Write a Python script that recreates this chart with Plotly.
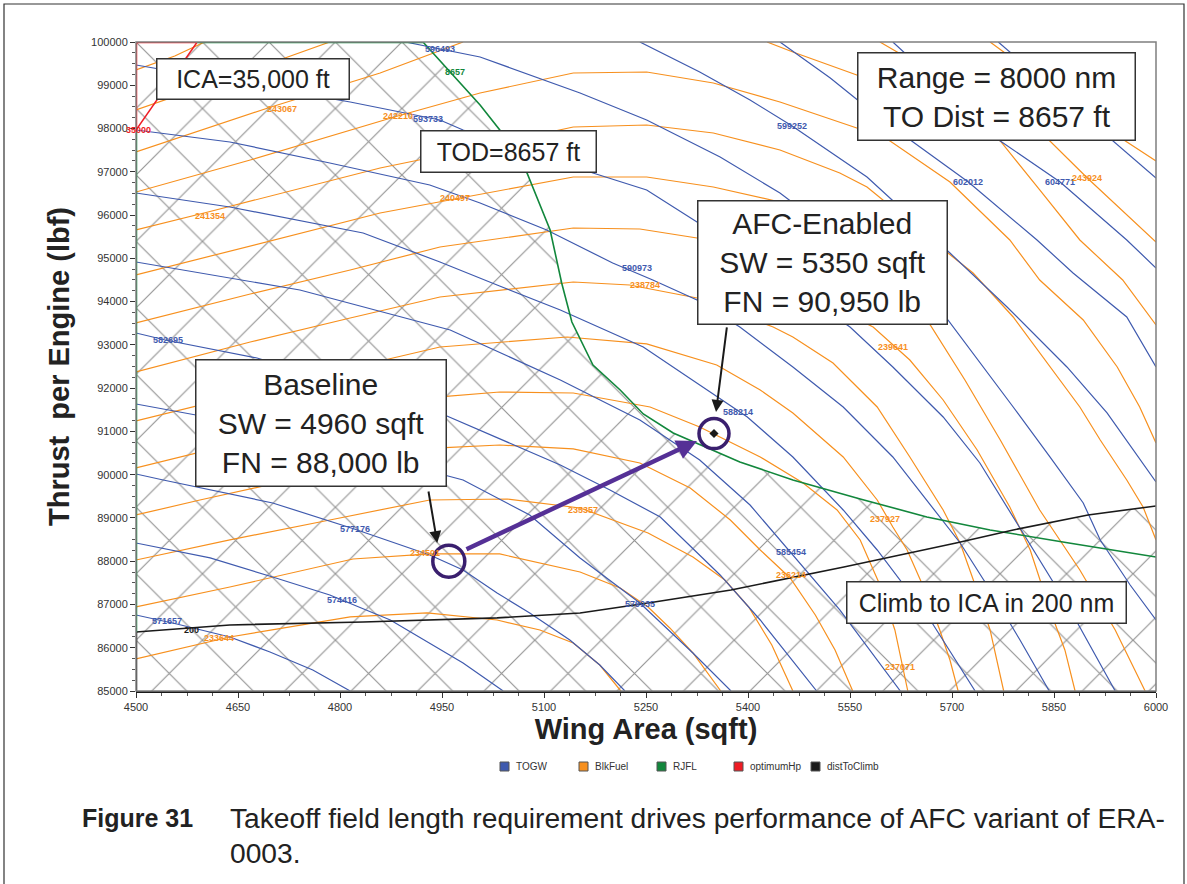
import numpy as np
import plotly.graph_objects as go

# ---------------- data (Wing Area sqft, Thrust lbf) ----------------
# TOGW contours (lb) : level -> (x list, y list)
togw_levels = [571657, 574416, 577176, 579935, 582695, 585454, 588214, 590973, 593733, 596493, 599252, 602012, 604771, 607531]
togw_x = [
    [4500, 4560, 4638, 4697, 4760, 4815],
    [4500, 4609, 4701, 4785, 4874, 4932, 4981, 5040],
    [4500, 4540, 4701, 4821, 4932, 4981, 5031, 5079, 5138, 5182, 5219],
    [4500, 4668, 4815, 4981, 5079, 5153, 5241, 5319, 5375],
    [4500, 4543, 4678, 4947, 5124, 5197, 5271, 5310, 5359, 5418, 5501],
    [4500, 4741, 4962, 5124, 5241, 5329, 5403, 5462, 5535, 5624],
    [4500, 4638, 4834, 4947, 5031, 5124, 5246, 5319, 5399, 5466, 5540, 5590, 5668, 5734],
    [4500, 4638, 4785, 4932, 5006, 5104, 5201, 5260, 5325, 5388, 5466, 5540, 5613, 5663, 5712, 5756, 5800, 5843],
    [4500, 4668, 4815, 4947, 4981, 5172, 5251, 5325, 5550, 5613, 5687, 5741, 5781, 5810, 5874, 5940],
    [4896, 5006, 5153, 5251, 5359, 5447, 5694, 5746, 5790, 5844, 5893, 5918, 5962, 6000],
    [5241, 5329, 5403, 5465, 5575, 5697, 5781, 5869, 5928, 6000],
    [5447, 5521, 5594, 5724, 5825, 5878, 5957, 6000],
    [5613, 5771, 5859, 5957, 6000],
    [5768, 5937, 6000],
]
togw_y = [
    [86757, 86549, 86248, 85902, 85486, 85000],
    [88421, 88075, 87635, 87219, 86641, 86110, 85647, 85000],
    [90016, 89877, 89346, 88745, 88144, 87797, 87265, 86804, 86179, 85601, 85000],
    [91634, 91148, 90571, 89877, 89068, 88075, 87034, 85879, 85000],
    [93275, 93113, 92697, 91426, 90224, 89646, 89022, 88421, 87682, 86641, 85000],
    [94915, 94268, 93344, 92188, 91264, 90340, 89299, 88213, 86873, 85000],
    [96510, 96187, 95586, 94915, 94384, 93806, 92951, 92188, 91333, 90409, 89184, 88259, 86641, 85000],
    [97966, 97689, 97204, 96695, 96279, 95655, 94892, 94499, 94037, 93413, 92489, 91564, 90409, 89415, 88421, 87335, 86179, 85000],
    [99469, 99006, 98613, 98198, 97966, 96973, 96580, 95840, 93413, 92489, 91333, 90270, 89253, 88491, 86873, 85000],
    [100000, 99654, 98821, 98198, 97342, 96510, 93575, 92489, 91564, 90409, 89346, 88491, 87450, 86641],
    [100000, 99307, 98660, 98059, 96880, 95123, 93875, 92489, 91426, 89831],
    [100000, 99168, 98244, 96764, 95424, 94661, 93644, 92489],
    [100000, 97712, 96764, 95424, 94777],
    [100000, 97712, 96857],
]
# label positions of the TOGW contours
togw_lab_x = [4545, 4803, 4822, 5241, 4547, 5463, 5385, 5237, 4929, 4947, 5465, 5724, 5859, None]
togw_lab_y = [86620, 87104, 88745, 87011, 93113, 88213, 91449, 94777, 98221, 99838, 98059, 96764, 96764, None]

# Block fuel contours (lb)
fuel_levels = [233644, 234501, 235357, 236214, 237071, 237927, 238784, 239641, 240497, 241354, 242210, 243067, 243924, 244780]
fuel_x = [
    [4500, 4638, 4815, 4928, 5031, 5094, 5143, 5182, 5213],
    [4500, 4638, 4819, 4932, 5035, 5153, 5212, 5253, 5285, 5319, 5360],
    [4500, 4638, 4785, 4932, 5046, 5153, 5253, 5319, 5366, 5401, 5435, 5466],
    [4500, 4594, 4741, 4947, 5035, 5143, 5241, 5315, 5374, 5418, 5462, 5499, 5528, 5554],
    [4500, 4668, 4815, 4947, 5035, 5143, 5256, 5329, 5418, 5481, 5531, 5565, 5594, 5616, 5635],
    [4500, 4668, 4815, 4947, 5134, 5251, 5354, 5418, 5466, 5540, 5590, 5613, 5634, 5660, 5682, 5697, 5709],
    [4500, 4668, 4815, 4947, 5143, 5226, 5325, 5437, 5466, 5525, 5590, 5638, 5687, 5712, 5734, 5756, 5776],
    [4500, 4668, 4815, 4947, 5143, 5241, 5325, 5584, 5638, 5687, 5737, 5785, 5815, 5844, 5866, 5881],
    [4500, 4668, 4859, 4969, 5143, 5251, 5349, 5447, 5668, 5719, 5771, 5829, 5888, 5940, 5984],
    [4500, 4606, 4859, 4966, 5143, 5251, 5349, 5447, 5535, 5575, 5694, 5731, 5790, 5844, 5888, 5918, 5957, 5981, 6000],
    [4500, 4668, 4885, 5006, 5143, 5251, 5349, 5447, 5560, 5609, 5697, 5785, 5829, 5893, 5943, 5976, 6000],
    [4500, 4694, 4859, 4981, None, 5428, 5466, 5560, 5771, 5829, 5888, 5951, 6000],
    [4500, 4594, 4682, 4785, None, 5594, 5844, 5899, 5947, 6000],
    [4500, 4557, 4601, None, 5756, 5955, 6000],
]
fuel_y = [
    [85740, 86248, 86711, 86804, 86641, 86410, 86110, 85601, 85000],
    [86942, 87404, 88051, 88167, 88167, 87751, 87381, 86942, 86457, 85879, 85000],
    [88028, 88491, 88953, 89415, 89438, 89230, 88652, 88098, 87566, 86942, 86064, 85000],
    [89068, 89415, 89924, 90617, 90686, 90594, 90270, 89692, 88953, 88259, 87612, 86757, 85948, 85000],
    [90155, 90802, 91379, 91796, 91911, 91888, 91564, 91102, 90409, 89808, 89184, 88491, 87450, 86410, 85000],
    [91241, 91888, 92466, 92951, 93182, 93021, 92535, 91957, 91426, 90409, 89415, 88791, 88259, 87335, 86410, 85717, 85000],
    [92373, 93067, 93621, 94107, 94453, 94384, 94084, 93413, 93182, 92581, 91564, 90409, 89184, 88421, 87450, 86410, 85000],
    [93506, 94176, 94730, 95262, 95701, 95678, 95470, 93413, 92650, 91726, 90571, 89253, 88259, 86873, 85948, 85000],
    [94615, 95285, 96048, 96372, 96880, 96880, 96649, 96302, 93460, 92188, 90802, 89184, 87797, 86410, 85000],
    [95655, 96071, 97088, 97435, 98036, 98082, 97897, 97504, 96973, 96649, 95123, 94661, 93644, 92489, 91564, 90802, 89877, 89253, 88491],
    [96533, 97273, 98290, 98821, 99284, 99307, 99052, 98613, 98013, 97712, 96764, 95424, 94499, 93575, 92489, 91564, 90732],
    [97458, 98475, 99284, 100000, None, 100000, 99769, 99237, 97712, 96580, 95424, 94499, 93460],
    [98429, 98937, 99422, 100000, None, 100000, 97712, 96857, 96164, 95378],
    [99353, 99677, 100000, None, 100000, 97712, 97250],
]
fuel_lab_x = [4622, 4925, 5157, 5463, 5624, 5601, 5249, 5613, 4969, 4609, 4885, 4715, 5899, 4622]
fuel_lab_y = [86226, 88190, 89184, 87682, 85555, 88976, 94384, 92951, 96395, 95979, 98290, 98452, 96857, 100046]

# RJFL = 8657 ft constraint contour
rjfl_x = [4922, 5006, 5035, 5075, 5109, 5126, 5141, 5172, 5212, 5246, 5290, 5340, 5388, 5466, 5565, 5663, 5756, 5872, 6000]
rjfl_y = [100000, 98544, 97966, 96973, 95655, 94430, 93529, 92535, 91958, 91403, 90964, 90617, 90294, 89878, 89439, 89023, 88722, 88422, 88098]
# distToClimb = 200 nm contour
climb_x = [4500, 4638, 4834, 5031, 5153, 5253, 5375, 5541, 5706, 5790, 5900, 6000]
climb_y = [86365, 86527, 86596, 86689, 86804, 87035, 87336, 87867, 88422, 88722, 89069, 89277]
# optimumHp = 35000 ft contour
hp_x = [4590, 4500]
hp_y = [100000, 97966]

baseline = (4960, 88000)
afc = (5350, 90950)

FONT = "Arial, Liberation Sans, sans-serif"
BLUE = "#3F5AAE"
ORANGE = "#F7901E"
GREEN = "#12873C"
RED = "#EE1C24"
BLACK = "#1A1A1A"
HATCH = "#959595"

W, H = 1187, 884
L, R, T, B = 136, 1156, 42, 691


def px(x):
    return (x - L) / (R - L)


def py(y):
    return (B - y) / (B - T)


fig = go.Figure()

# hatched infeasible region (left of RJFL / below climb constraint)
bx = np.union1d(np.array(rjfl_x, float), np.array(climb_x, float))
bx = np.union1d(bx, np.linspace(4500, 6000, 301))
gy = np.interp(bx, rjfl_x, rjfl_y, left=100000)
cy = np.interp(bx, climb_x, climb_y)
by = np.maximum(gy, cy)
poly_x = [4500] + list(bx) + [6000, 4500]
poly_y = [85000] + list(by) + [85000, 85000]
fig.add_trace(go.Scatter(
    x=poly_x, y=poly_y, mode="lines", fill="toself",
    fillcolor="rgba(0,0,0,0)", line=dict(width=0, color="rgba(0,0,0,0)"),
    fillpattern=dict(shape="x", fgcolor=HATCH, bgcolor="rgba(0,0,0,0)",
                     size=47, solidity=0.05, fillmode="replace"),
    hoverinfo="skip", showlegend=False))

for xs, ys in zip(fuel_x, fuel_y):
    fig.add_trace(go.Scatter(x=xs, y=ys, mode="lines", line=dict(color=ORANGE, width=1.2),
                             connectgaps=False, showlegend=False, hoverinfo="skip"))
for xs, ys in zip(togw_x, togw_y):
    fig.add_trace(go.Scatter(x=xs, y=ys, mode="lines", line=dict(color=BLUE, width=1.2),
                             showlegend=False, hoverinfo="skip"))

# constraint lines
fig.add_trace(go.Scatter(x=rjfl_x, y=rjfl_y, mode="lines", line=dict(color=GREEN, width=1.6), showlegend=False))
fig.add_trace(go.Scatter(x=climb_x, y=climb_y, mode="lines", line=dict(color=BLACK, width=1.6), showlegend=False))
fig.add_trace(go.Scatter(x=hp_x, y=hp_y, mode="lines", line=dict(color=RED, width=1.5), showlegend=False))

# region outlines along the frame
fig.add_trace(go.Scatter(x=[4500, 4500, hp_x[0]], y=[hp_y[1], 100000, 100000], mode="lines",
                         line=dict(color=RED, width=2.5), cliponaxis=False, showlegend=False))
fig.add_trace(go.Scatter(x=[4500, 4500], y=[climb_y[0], hp_y[1]], mode="lines",
                         line=dict(color=GREEN, width=2.5), cliponaxis=False, showlegend=False))
fig.add_trace(go.Scatter(x=[hp_x[0], rjfl_x[0]], y=[100000, 100000], mode="lines",
                         line=dict(color=GREEN, width=2.5), cliponaxis=False, showlegend=False))
fig.add_trace(go.Scatter(x=[4500, 4500], y=[85000, climb_y[0]], mode="lines",
                         line=dict(color=BLACK, width=2.5), cliponaxis=False, showlegend=False))

# design points
fig.add_trace(go.Scatter(x=[afc[0]], y=[afc[1]], mode="markers",
                         marker=dict(symbol="diamond", size=7, color=BLACK), showlegend=False))

shapes = []
for (cx, cy_), r in ((baseline, 16), (afc, 15)):
    shapes.append(dict(type="circle", xref="x", yref="y", xsizemode="pixel", ysizemode="pixel",
                       xanchor=cx, yanchor=cy_, x0=-r, x1=r, y0=-r, y1=r,
                       line=dict(color="#3A1F6E", width=3.5)))
# plot frame
shapes.append(dict(type="rect", xref="paper", yref="paper", x0=0, x1=1, y0=0, y1=1,
                   line=dict(color="#7F7F7F", width=1.5), layer="above"))
# outer figure frame
shapes.append(dict(type="rect", xref="paper", yref="paper", x0=px(4), x1=px(1184), y0=py(905), y1=py(4),
                   line=dict(color="#333333", width=1.2)))

ann = []

# contour value labels
for lv, lx, ly in zip(togw_levels, togw_lab_x, togw_lab_y):
    if lx is None:
        continue
    ann.append(dict(x=lx, y=ly, xref="x", yref="y", text=f"<b>{lv}</b>", showarrow=False,
                    font=dict(family=FONT, size=9, color=BLUE)))
for lv, lx, ly in zip(fuel_levels, fuel_lab_x, fuel_lab_y):
    ann.append(dict(x=lx, y=ly, xref="x", yref="y", text=f"<b>{lv}</b>", showarrow=False,
                    font=dict(family=FONT, size=9, color=ORANGE)))
ann.append(dict(x=4969, y=99307, xref="x", yref="y", text="<b>8657</b>", showarrow=False,
                font=dict(family=FONT, size=9, color=GREEN)))
ann.append(dict(x=4582, y=86410, xref="x", yref="y", text="<b>200</b>", showarrow=False,
                font=dict(family=FONT, size=9, color=BLACK)))
ann.append(dict(x=4503, y=97966, xref="x", yref="y", text="<b>35000</b>", showarrow=False,
                font=dict(family=FONT, size=9, color=RED)))


def box(text, x0, x1, y0, y1, size):
    ann.append(dict(xref="paper", yref="paper", x=px((x0 + x1) / 2), y=py((y0 + y1) / 2),
                    xanchor="center", yanchor="middle", text=text, showarrow=False,
                    font=dict(family=FONT, size=size, color="#222222"),
                    bgcolor="white", bordercolor="#333333", borderwidth=1.5, borderpad=0,
                    width=x1 - x0 - 3, height=y1 - y0 - 3, align="center"))


box("ICA=35,000 ft", 156, 350, 58, 100, 25)
box("TOD=8657 ft", 420, 597, 130, 173, 25)
box("Range = 8000 nm<br>TO Dist = 8657 ft", 857, 1136, 52, 141, 30)
box("AFC-Enabled<br>SW = 5350 sqft<br>FN = 90,950 lb", 697, 948, 200, 325, 30)
box("Baseline<br>SW = 4960 sqft<br>FN = 88,000 lb", 195, 447, 359, 487, 30)
box("Climb to ICA in 200 nm", 846, 1127, 581, 624, 25)

# arrows
ann.append(dict(x=4943, y=88421, xref="x", yref="y", ax=-9, ay=-53, text="", showarrow=True,
                arrowhead=2, arrowsize=1.2, arrowwidth=2, arrowcolor=BLACK))
ann.append(dict(x=5353, y=91449, xref="x", yref="y", ax=11, ay=-86, text="", showarrow=True,
                arrowhead=2, arrowsize=1.2, arrowwidth=2, arrowcolor=BLACK))
ann.append(dict(x=5325, y=90779, xref="x", yref="y", ax=-232, ay=109, text="", showarrow=True,
                arrowhead=2, arrowsize=0.9, arrowwidth=4.5, arrowcolor="#553096"))

# legend (manual)
leg = [("TOGW", BLUE, 500), ("BlkFuel", ORANGE, 579), ("RJFL", GREEN, 657), ("optimumHp", RED, 734), ("distToClimb", BLACK, 811)]
for name, col, x in leg:
    shapes.append(dict(type="rect", xref="paper", yref="paper", x0=px(x), x1=px(x + 9), y0=py(771), y1=py(762),
                       fillcolor=col, line=dict(color="#555555", width=1)))
    ann.append(dict(xref="paper", yref="paper", x=px(x + 14), y=py(766.5), xanchor="left", yanchor="middle",
                    text=name, showarrow=False, font=dict(family=FONT, size=10, color="#333333")))

# caption
ann.append(dict(xref="paper", yref="paper", x=px(80), y=py(818), xanchor="left", yanchor="middle",
                text="<b>Figure 31</b>", showarrow=False, font=dict(family=FONT, size=25, color="#222222")))
ann.append(dict(xref="paper", yref="paper", x=px(228), y=py(818), xanchor="left", yanchor="middle",
                text="Takeoff field length requirement drives performance of AFC variant of ERA-",
                showarrow=False, font=dict(family=FONT, size=28.2, color="#222222")))
ann.append(dict(xref="paper", yref="paper", x=px(228), y=py(853), xanchor="left", yanchor="middle",
                text="0003.", showarrow=False, font=dict(family=FONT, size=28.2, color="#222222")))

fig.update_layout(
    width=W, height=H, margin=dict(l=L, r=W - R, t=T, b=H - B),
    paper_bgcolor="white", plot_bgcolor="white", showlegend=False,
    shapes=shapes, annotations=ann,
    font=dict(family=FONT, color="#333333"),
    xaxis=dict(range=[4500, 6000], tickvals=list(range(4500, 6001, 150)), ticks="outside", ticklen=5,
               tickcolor="#333333", showgrid=False, zeroline=False, showline=True, linecolor=BLACK, linewidth=2,
               tickfont=dict(size=11, color="#333333"),
               minor=dict(dtick=37.5, ticks="outside", ticklen=3, tickcolor="#555555"),
               title=dict(text="<b>Wing Area (sqft)</b>", font=dict(size=29, color="#222222"), standoff=6)),
    yaxis=dict(range=[85000, 100000], tickvals=list(range(85000, 100001, 1000)), tickformat="d",
               ticks="outside", ticklen=5, tickcolor="#333333", showgrid=False, zeroline=False, showline=False,
               tickfont=dict(size=11, color="#333333"),
               minor=dict(dtick=250, ticks="outside", ticklen=3, tickcolor="#555555"),
               title=dict(text="<b>Thrust&nbsp;&nbsp;per Engine (lbf)</b>", font=dict(size=29, color="#222222"), standoff=12)),
)

fig.write_html("out.html")
